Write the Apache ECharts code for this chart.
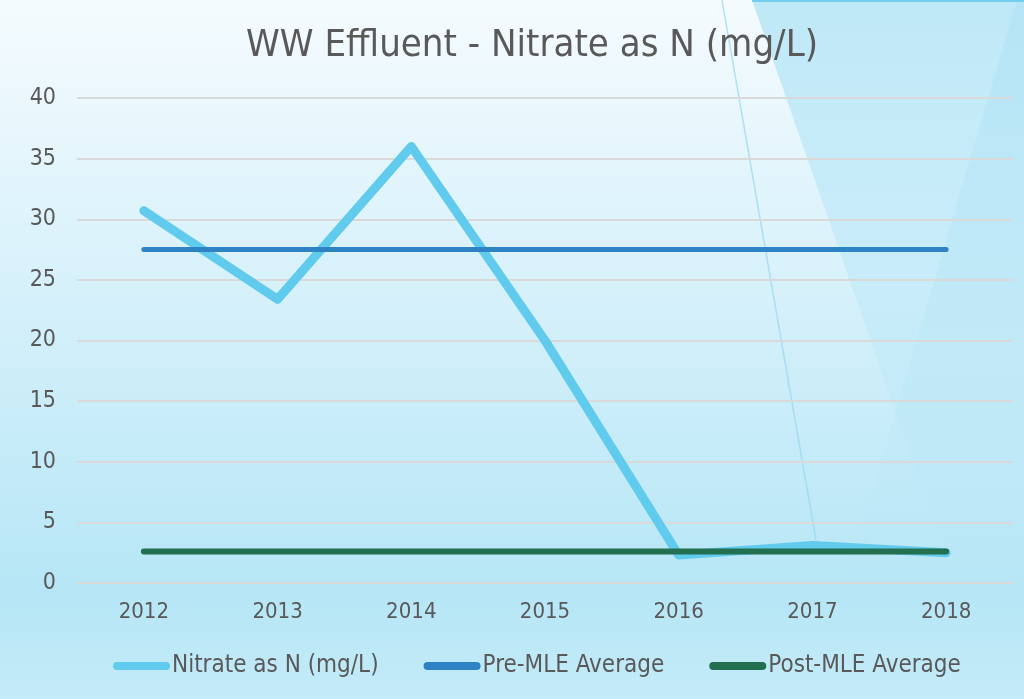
<!DOCTYPE html>
<html>
<head>
<meta charset="utf-8">
<script src="https://cdn.jsdelivr.net/npm/echarts@6/dist/echarts.min.js"></script>
<style>
  html, body { margin: 0; padding: 0; }
  #chart { width: 1024px; height: 699px; }
</style>
</head>
<body>
<div id="chart"></div>
<script>
// data
var years = ['2012', '2013', '2014', '2015', '2016', '2017', '2018'];
var nitrate = [30.7, 23.4, 36.0, 20.0, 2.3, 3.1, 2.5];
var preMLE = [27.5, 27.5, 27.5, 27.5, 27.5, 27.5, 27.5];
var postMLE = [2.6, 2.6, 2.6, 2.6, 2.6, 2.6, 2.6];
var yTicks = [0, 5, 10, 15, 20, 25, 30, 35, 40];

var txt = '#595959';
var narrow = '"Liberation Sans Narrow", "DejaVu Sans Condensed", sans-serif';

var myChart = echarts.init(document.getElementById('chart'));

var option = {
    backgroundColor: new echarts.graphic.LinearGradient(0, 0, 0, 1, [
        { offset: 0, color: '#f5fbfe' },
        { offset: 0.85, color: '#b6e6f6' },
        { offset: 1, color: '#c4ebf8' }
    ]),
    // decorative shapes in the top right corner
    graphic: [
        {
            type: 'polygon', z: -10, silent: true,
            shape: { points: [[752, 0], [1024, 0], [1024, 620], [968, 620]] },
            style: {
                fill: new echarts.graphic.LinearGradient(0, 0, 0, 1, [
                    { offset: 0, color: 'rgba(190,232,247,1)' },
                    { offset: 1, color: 'rgba(182,230,246,0)' }
                ])
            }
        },
        {
            type: 'polygon', z: -9, silent: true,
            shape: { points: [[1017, 0], [1024, 0], [1024, 600], [840, 600]] },
            style: {
                fill: new echarts.graphic.LinearGradient(0, 0, 0, 1, [
                    { offset: 0, color: 'rgba(175,226,245,0.6)' },
                    { offset: 1, color: 'rgba(175,226,245,0)' }
                ])
            }
        },
        {
            type: 'line', z: -8, silent: true,
            shape: { x1: 722, y1: 0, x2: 816, y2: 540 },
            style: { stroke: 'rgba(150,215,240,0.7)', lineWidth: 1.5 }
        },
        {
            type: 'rect', z: -8, silent: true,
            shape: { x: 752, y: 0, width: 272, height: 2 },
            style: { fill: '#74cfee' }
        }
    ],
    title: {
        text: 'WW Effluent - Nitrate as N (mg/L)',
        left: 241,
        top: 22,
        textStyle: { color: txt, fontSize: 38, fontWeight: 'normal', fontFamily: narrow }
    },
    legend: {
        left: 108,
        top: 649,
        itemWidth: 57,
        itemHeight: 9,
        itemGap: 45,
        icon: 'path://M4,0 L53,0 A4,4 0 0 1 53,8 L4,8 A4,4 0 0 1 4,0 Z',
        textStyle: { color: txt, fontSize: 24, fontFamily: narrow, padding: [0, 0, 0, -3] },
        data: ['Nitrate as N (mg/L)', 'Pre-MLE Average', 'Post-MLE Average']
    },
    grid: {
        left: 77,
        right: 11,
        top: 98,
        bottom: 116
    },
    xAxis: {
        type: 'category',
        data: years,
        axisLine: { show: true, lineStyle: { color: '#d9d9d9', width: 2 } },
        axisTick: { show: false },
        axisLabel: { color: txt, fontSize: 22, fontFamily: narrow, margin: 18 }
    },
    yAxis: {
        type: 'value',
        min: yTicks[0],
        max: yTicks[yTicks.length - 1],
        interval: 5,
        axisLine: { show: false },
        axisTick: { show: false },
        axisLabel: { color: txt, fontSize: 23, fontFamily: narrow, margin: 21 },
        splitLine: { lineStyle: { color: '#d9d9d9', width: 2 } }
    },
    series: [
        {
            name: 'Nitrate as N (mg/L)',
            type: 'line',
            data: nitrate,
            symbol: 'none',
            itemStyle: { color: '#61cbee' },
            lineStyle: { color: '#61cbee', width: 9, cap: 'round', join: 'round' }
        },
        {
            name: 'Pre-MLE Average',
            type: 'line',
            data: preMLE,
            symbol: 'none',
            itemStyle: { color: '#2e83c4' },
            lineStyle: { color: '#2e83c4', width: 5, cap: 'round' }
        },
        {
            name: 'Post-MLE Average',
            type: 'line',
            data: postMLE,
            symbol: 'none',
            itemStyle: { color: '#237051' },
            lineStyle: { color: '#237051', width: 6, cap: 'round' }
        }
    ]
};

myChart.setOption(option);
</script>
</body>
</html>
